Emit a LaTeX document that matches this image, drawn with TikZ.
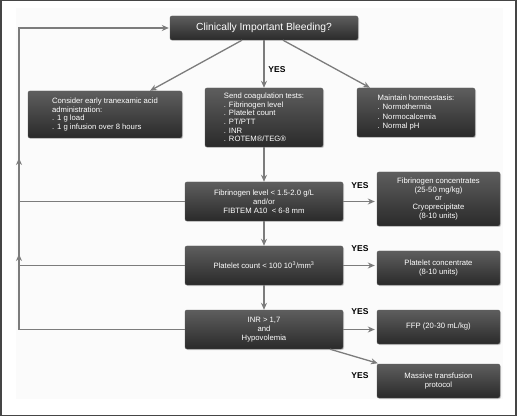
\documentclass[tikz,border=0pt]{standalone}
\usepackage{fontspec}
\setmainfont{Liberation Sans}
\usetikzlibrary{arrows.meta,shadows}
\definecolor{conn}{HTML}{7C7C7C}
\definecolor{boxtop}{HTML}{5E5E5E}
\definecolor{boxbot}{HTML}{2A2A2A}
\definecolor{frame}{HTML}{454545}
\tikzset{
  box/.style={rounded corners=2pt, draw=gray!70!black, line width=0.4pt,
    top color=boxtop, bottom color=boxbot, text=white,
    font=\fontsize{7.7}{8.9}\selectfont, align=center, inner sep=0pt,
    drop shadow={shadow xshift=1pt, shadow yshift=-1pt, opacity=0.35}},
  lbox/.style={box, align=left},
  connline/.style={draw=conn, line width=1.3pt},
  arr/.style={connline, -{Stealth[length=7pt,width=6pt]}},
  yes/.style={font=\fontsize{8.5}{10}\selectfont\bfseries, text=black, inner sep=0pt},
}
\begin{document}
\begin{tikzpicture}[x=1pt,y=-1pt]
\useasboundingbox (0,0) rectangle (520,417);
\draw[frame, line width=1.5pt, fill=white] (0.75,0.75) rectangle (516,415.5);
\fill[gray!3] (16,8) rectangle (503,399);

\node[box, minimum width=188pt, minimum height=24pt, font=\fontsize{10.3}{12}\selectfont] (top) at (264,28) {Clinically Important Bleeding?};
\node[lbox, minimum width=154pt, minimum height=47pt] (txa) at (105,114.5)
 {Consider early tranexamic acid\\administration:\\{.} 1 g load\\{.} 1 g infusion over 8 hours};
\node[lbox, minimum width=118pt, minimum height=59pt, font=\fontsize{7.7}{8.6}\selectfont] (tests) at (264,117.5)
 {Send coagulation tests:\\{.} Fibrinogen level\\{.} Platelet count\\{.} PT/PTT\\{.} INR\\{.} ROTEM\textregistered/TEG\textregistered};
\node[lbox, minimum width=118pt, minimum height=49pt, font=\fontsize{7.7}{9.2}\selectfont] (homeo) at (416,112.5)
 {Maintain homeostasis:\\{.} Normothermia\\{.} Normocalcemia\\{.} Normal pH};

\node[box, minimum width=158pt, minimum height=39pt] (fib) at (264,201.5)
 {Fibrinogen level < 1.5-2.0 g/L\\and/or\\FIBTEM A10~~< 6-8 mm};
\node[box, minimum width=123pt, minimum height=54pt] (fibc) at (438.5,199)
 {Fibrinogen concentrates\\(25-50 mg/kg)\\or\\Cryoprecipitate\\(8-10 units)};
\node[box, minimum width=158pt, minimum height=39pt] (plt) at (264,265.5)
 {Platelet count < 100 10\textsuperscript{3}/mm\textsuperscript{3}};
\node[box, minimum width=123pt, minimum height=34pt] (pltc) at (438.5,268)
 {Platelet concentrate\\(8-10 units)};
\node[box, minimum width=158pt, minimum height=39pt] (inr) at (264,329.5)
 {INR > 1,7\\and\\Hypovolemia};
\node[box, minimum width=123pt, minimum height=34pt] (ffp) at (438.5,327)
 {FFP (20-30 mL/kg)};
\node[box, minimum width=123pt, minimum height=34pt] (mtp) at (438.5,381)
 {Massive transfusion\\protocol};

% YES labels
\node[yes] (y0) at (277,69.5) {YES};
\node[yes] (y1) at (360,186) {YES};
\node[yes] (y2) at (360,248.5) {YES};
\node[yes] (y3) at (360,312) {YES};
\node[yes] (y4) at (360,376) {YES};

% arrows from top
\draw[arr] ([xshift=-22pt]top.south) -- ([xshift=45pt]txa.north);
\draw[arr] (top.south) -- (tests.north);
\draw[arr] ([xshift=19pt]top.south) -- ([xshift=-46pt]homeo.north);

% vertical chain
\draw[arr] (tests.south) -- (fib.north);
\draw[arr] (fib.south) -- (plt.north);
\draw[arr] (plt.south) -- (inr.north);

% yes arrows
\draw[arr] (fib.east) -- ([xshift=-2pt]fib.east -| fibc.west);
\draw[arr] (plt.east) -- ([xshift=-2pt]plt.east -| pltc.west);
\draw[arr] (inr.east) -- ([xshift=-2pt]inr.east -| ffp.west);
\draw[arr] ([xshift=66pt]inr.south) -- ([xshift=1pt,yshift=0.5pt]mtp.north west);

% feedback loop
\coordinate (lb) at (19,329.5);
\coordinate (lt) at (19,28);
\draw[connline] (fib.west) -- (fib.west -| lb);
\draw[connline] (plt.west) -- (plt.west -| lb);
\draw[arr] (inr.west) -- (lb) -- (lt) -- ([xshift=-1pt]top.west);
\coordinate (m1a) at (19,172);
\coordinate (m1b) at (19,158);
\coordinate (m2a) at (19,268);
\coordinate (m2b) at (19,254);
\draw[arr] (m1a) -- (m1b);
\draw[arr] (m2a) -- (m2b);
\end{tikzpicture}
\end{document}
